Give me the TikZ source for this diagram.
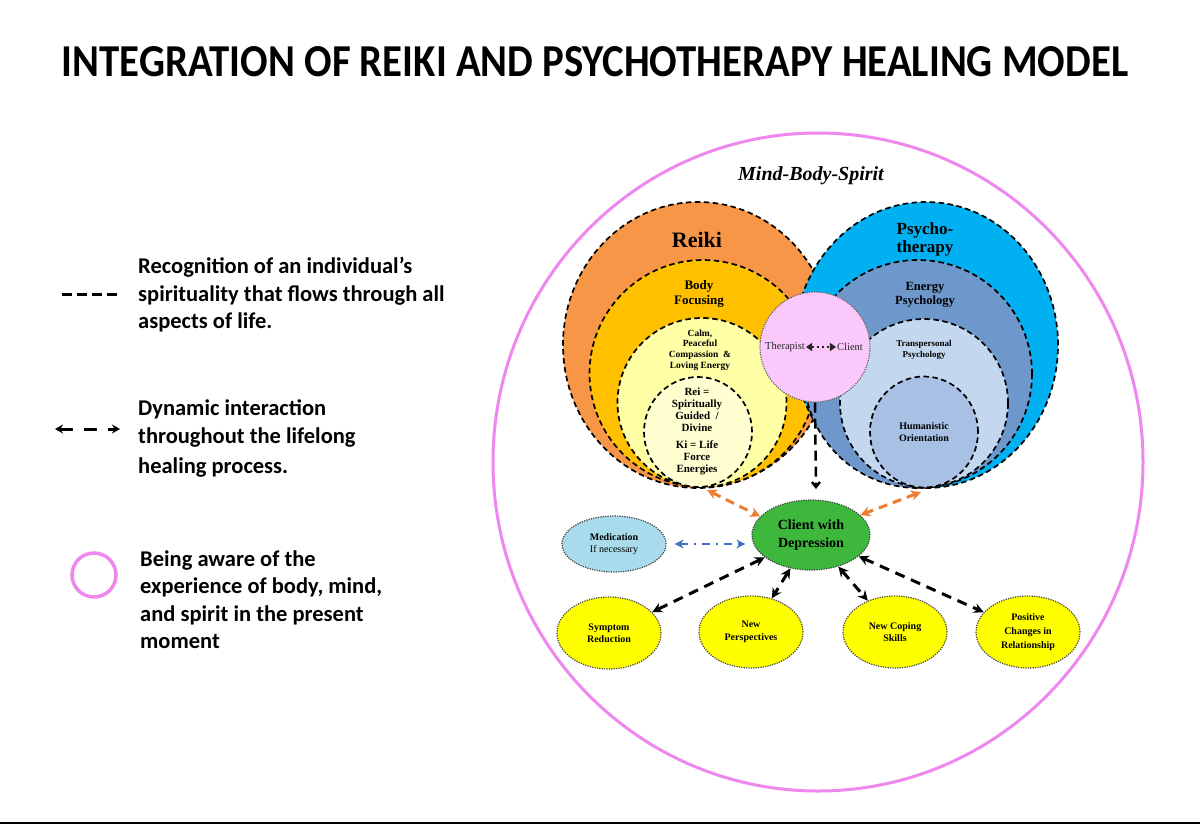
\documentclass[tikz,border=0pt]{standalone}
\usepackage{fontspec}
\setmainfont{Liberation Serif}
\newfontfamily\calib{Carlito}
\usetikzlibrary{shapes.geometric,arrows.meta}
\definecolor{pinkline}{HTML}{EE88EE}
\definecolor{reikiO}{HTML}{F79646}
\definecolor{bodyY}{HTML}{FFC000}
\definecolor{calmY}{HTML}{FFFFA6}
\definecolor{reiY}{HTML}{FFFFD2}
\definecolor{psyB}{HTML}{00B0F0}
\definecolor{enB}{HTML}{6E97CB}
\definecolor{trB}{HTML}{C3D8EF}
\definecolor{huB}{HTML}{A7C0E3}
\definecolor{therP}{HTML}{FBC8FB}
\definecolor{grn}{HTML}{3DB83D}
\definecolor{medB}{HTML}{A8DBEB}
\definecolor{arrO}{HTML}{ED7D31}
\definecolor{arrB}{HTML}{4472C4}
\definecolor{yel}{HTML}{FFFF00}
\newcommand{\fs}[2]{\fontsize{#1}{#2}\selectfont}
\begin{document}
\begin{tikzpicture}[x=1pt,y=-1pt,
  ring/.style={ellipse, inner sep=0pt, draw=black, line width=1.7pt, dash pattern=on 5.5pt off 3.5pt},
  lbl/.style={align=center, inner sep=0pt, font=\bfseries},
  dotbox/.style={ellipse, inner sep=0pt, draw=black!75, line width=1.2pt, dash pattern=on 1.2pt off 1.2pt, align=center},
  blkarrow/.style={line width=3pt, dash pattern=on 10pt off 7pt, {Stealth[length=10pt,width=10pt]}-{Stealth[length=10pt,width=10pt]}},
  orarrow/.style={arrO, line width=3pt, dash pattern=on 9pt off 6pt, {Stealth[length=10pt,width=10pt]}-{Stealth[length=10pt,width=10pt]}},
  legtext/.style={anchor=west, align=left, inner sep=0pt, font=\calib\bfseries\fs{22.5}{27.5}}
]
\useasboundingbox (0,0) rectangle (1200,825);
\fill[white] (0,0) rectangle (1200,825);

% title
\node[inner sep=0pt, font=\calib\bfseries\fs{40.8}{44}] (title) at (595,62) {\scalebox{1}[1.12]{INTEGRATION OF REIKI AND PSYCHOTHERAPY HEALING MODEL}};

% bottom rule
\draw[line width=2pt] (0,823) -- (1200,823);

% legend
\coordinate (ld1) at (62,294);
\coordinate (ld2) at (117,294);
\draw[line width=3pt, dash pattern=on 10pt off 5pt] (ld1) -- (ld2);
\node[legtext] (leg1) at (138,295) {Recognition of an individual’s\\spirituality that flows through all\\aspects of life.};

\coordinate (la1) at (55,429);
\coordinate (la2) at (120,429);
\draw[line width=3pt, dash pattern=on 13pt off 11pt, {Stealth[length=8pt,width=9pt]}-{Stealth[length=8pt,width=9pt]}] (la1) -- (la2);
\node[legtext] (leg2) at (138,438.5) {Dynamic interaction\\throughout the lifelong\\[3pt]healing process.};

\node[circle, draw=pinkline, line width=3.5pt, minimum size=44pt, inner sep=0pt] (legc) at (94,575) {};
\node[legtext] (leg3) at (140,599.5) {Being aware of the\\experience of body, mind,\\and spirit in the present\\moment};

% big mind-body-spirit circle
\node[ellipse, draw=pinkline, line width=3pt, minimum width=650pt, minimum height=658pt, inner sep=0pt] (mbs) at (818,462) {};
\node[inner sep=0pt, font=\bfseries\itshape\fs{20}{22}] (mbslbl) at (811,176) {Mind-Body-Spirit};

% Reiki circles
\node[ring, fill=reikiO, minimum width=270pt, minimum height=286pt] (reiki) at (698,345) {};
\node[ring, fill=bodyY, minimum size=227pt] (body) at (703,373.5) {};
\node[ring, fill=calmY, minimum size=169pt] (calm) at (702,402.5) {};
\node[ring, fill=reiY, minimum width=108pt, minimum height=110pt] (rei) at (698,432) {};

% Psychotherapy circles
\node[ring, fill=psyB, minimum width=264pt, minimum height=286pt] (psy) at (926,345) {};
\node[ring, fill=enB, minimum size=228pt] (energy) at (918,374) {};
\node[ring, fill=trB, minimum size=168pt] (trans) at (924,403) {};
\node[ring, fill=huB, minimum width=108pt, minimum height=111pt] (hum) at (924,432) {};

% labels in circles
\node[lbl, font=\bfseries\fs{22}{24}] (reikilbl) at (697,240) {Reiki};
\node[lbl, font=\bfseries\fs{13}{14.5}] (bodylbl) at (699,294) {Body\\Focusing};
\node[lbl, font=\bfseries\fs{9.5}{10.7}] (calmlbl) at (700,350) {Calm,\\Peaceful\\Compassion \ \&\\Loving Energy};
\node[lbl, font=\bfseries\fs{11}{12}] (reilbl) at (697,410) {Rei =\\Spiritually\\Guided \ /\\Divine};
\node[lbl, font=\bfseries\fs{11}{12}] (kilbl) at (697,458) {Ki = Life\\Force\\Energies};

\node[lbl, font=\bfseries\fs{17}{18}] (psylbl) at (925,239) {Psycho-\\therapy};
\node[lbl, font=\bfseries\fs{12.5}{14}] (energylbl) at (925,295) {Energy\\Psychology};
\node[lbl, font=\bfseries\fs{9}{10.5}] (translbl) at (924,350) {Transpersonal\\Psychology};
\node[lbl, font=\bfseries\fs{10}{11.5}] (humlbl) at (924,432) {Humanistic\\Orientation};

% therapist-client circle
\node[circle, fill=therP, draw=black!60, line width=1.2pt, dash pattern=on 1.2pt off 1.2pt, minimum size=110pt, inner sep=0pt] (tc) at (815,347) {};
\node[inner sep=1pt, font=\fs{10.5}{12}, text=black!85] (thr) at (785,347) {Therapist};
\node[inner sep=1pt, font=\fs{10.5}{12}, text=black!85] (cli) at (850,347) {Client};
\draw[line width=1.6pt, black!85, dash pattern=on 2.5pt off 2.5pt, {Triangle[length=6pt,width=8pt]}-{Triangle[length=6pt,width=8pt]}] (thr) -- (cli);

% client with depression
\node[dotbox, fill=grn, minimum width=118pt, minimum height=70pt, font=\bfseries\fs{14}{18}] (cwd) at (811,535) {Client with\\Depression};

% medication
\node[dotbox, fill=medB, minimum width=104pt, minimum height=56pt, font=\fs{10}{11.5}] (med) at (614,544) {\textbf{Medication}\\If necessary};

% outcome ellipses
\node[dotbox, fill=yel, minimum width=104pt, minimum height=72pt, font=\bfseries\fs{10}{12.5}] (sym) at (609,633) {Symptom\\Reduction};
\node[dotbox, fill=yel, minimum width=104pt, minimum height=72pt, font=\bfseries\fs{10}{12.5}] (np) at (751,632) {New\\Perspectives};
\node[dotbox, fill=yel, minimum width=104pt, minimum height=72pt, font=\bfseries\fs{10}{12.5}] (ncs) at (895,632) {New Coping\\Skills};
\node[dotbox, fill=yel, minimum width=104pt, minimum height=72pt, font=\bfseries\fs{10}{14}] (pos) at (1028,632) {Positive\\Changes in\\Relationship};

% connectors
\coordinate (vend) at (816,489);
\draw[line width=2.5pt, dash pattern=on 10pt off 6pt, -{Straight Barb[length=5pt,width=8pt]}] (tc.south) -- (vend);

\coordinate (oa1) at (707,490);
\coordinate (ob1) at (921,492);
\draw[orarrow] (oa1) -- (cwd.160);
\draw[orarrow] (ob1) -- (cwd.22);

\draw[arrB, line width=2.2pt, dash pattern=on 8pt off 6pt on 2pt off 6pt, shorten <=8pt, shorten >=6pt, {Stealth[length=9pt,width=9pt]}-{Stealth[length=9pt,width=9pt]}] (med.east) -- (med.east -| cwd.west);

\draw[blkarrow] (cwd) -- (sym);
\draw[blkarrow] (cwd) -- (np);
\draw[blkarrow] (cwd) -- (ncs);
\draw[blkarrow] (cwd) -- (pos);
\end{tikzpicture}
\end{document}
